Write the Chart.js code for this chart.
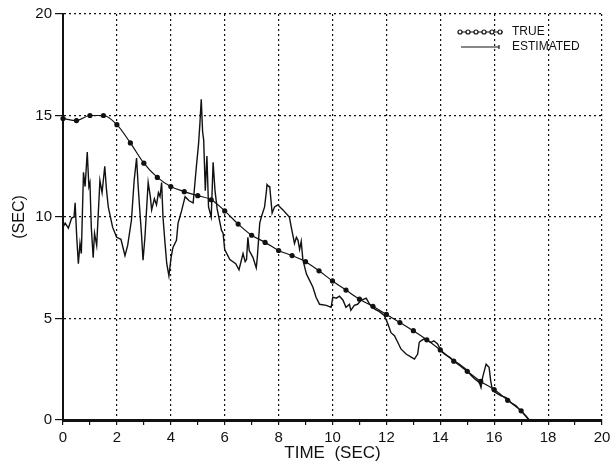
<!DOCTYPE html>
<html>
<head>
<meta charset="utf-8">
<script src="https://cdn.jsdelivr.net/npm/chart.js@4.4.0/dist/chart.umd.min.js"></script>
<style>
  html, body { margin: 0; padding: 0; background: #fff; }
  #wrap { width: 610px; height: 466px; }
</style>
</head>
<body>
<div id="wrap"><canvas id="grafico"></canvas></div>
<script>
// curva verdadeira (marcadores a cada 0.5 s)
const trueTime = [0, 0.5, 1, 1.5, 2, 2.5, 3, 3.5, 4, 4.5, 5, 5.5, 6, 6.5, 7, 7.5, 8, 8.5, 9, 9.5,
    10, 10.5, 11, 11.5, 12, 12.5, 13, 13.5, 14, 14.5, 15, 15.5, 16, 16.5, 17, 17.35, 20];
const trueValue = [14.85, 14.75, 15.0, 15.0, 14.55, 13.65, 12.65, 11.95, 11.5, 11.25, 11.05, 10.85, 10.3, 9.65, 9.1, 8.75, 8.35, 8.1, 7.8, 7.35,
    6.85, 6.4, 5.95, 5.6, 5.2, 4.8, 4.4, 3.95, 3.45, 2.9, 2.4, 1.9, 1.5, 0.97, 0.45, 0, 0];

// curva estimada
const estTime = [0, 0.08, 0.2, 0.32, 0.41, 0.45, 0.51, 0.57, 0.63, 0.68,
    0.76, 0.82, 0.9, 0.96, 1.0, 1.05, 1.12, 1.17, 1.25, 1.37,
    1.45, 1.55, 1.61, 1.68, 1.84, 1.99, 2.15, 2.3, 2.4, 2.54,
    2.64, 2.73, 2.79, 2.84, 2.91, 2.97, 3.04, 3.16, 3.24, 3.29,
    3.39, 3.47, 3.54, 3.6, 3.66, 3.71, 3.78, 3.85, 3.93, 4.01,
    4.08, 4.21, 4.27, 4.4, 4.53, 4.68, 4.83, 4.95, 5.03, 5.08,
    5.13, 5.18, 5.22, 5.28, 5.34, 5.4, 5.5, 5.57, 5.64, 5.72,
    5.88, 5.94, 6.0, 6.19, 6.41, 6.53, 6.68, 6.76, 6.81, 6.86,
    6.91, 7.05, 7.17, 7.21, 7.3, 7.36, 7.48, 7.55, 7.57, 7.63,
    7.67, 7.76, 7.85, 7.97, 8.16, 8.4, 8.47, 8.59, 8.66, 8.72,
    8.78, 8.84, 8.9, 9.03, 9.14, 9.27, 9.39, 9.52, 9.77, 9.95,
    10.01, 10.14, 10.26, 10.39, 10.5, 10.63, 10.68, 10.81, 10.93, 11.06,
    11.25, 11.38, 11.58, 11.73, 11.92, 12.05, 12.17, 12.3, 12.42, 12.54,
    12.73, 12.92, 13.04, 13.16, 13.22, 13.28, 13.4, 13.53, 13.66, 13.76,
    13.9, 14.03, 14.15, 14.34, 14.52, 14.7, 14.95, 15.01, 15.14, 15.3,
    15.45, 15.51, 15.57, 15.7, 15.81, 15.87, 15.94, 16.06, 16.24, 16.44,
    16.62, 16.81, 16.99, 17.18, 17.3, 20];
const estValue = [9.5, 9.7, 9.45, 9.95, 10.0, 10.7, 9.0, 7.7, 8.7, 8.2,
    12.2, 11.5, 13.2, 11.5, 11.7, 9.5, 8.0, 9.2, 8.6, 11.8,
    11.2, 12.5, 11.4, 10.5, 9.5, 9.0, 8.9, 8.1, 8.6, 9.85,
    11.8, 12.9, 11.5, 10.5, 9.2, 7.87, 9.0, 11.7, 11.0, 10.35,
    10.9, 10.6, 11.2, 11.0, 11.7, 10.0, 8.8, 7.7, 7.1, 8.0,
    8.5, 8.85, 9.7, 10.3, 11.0, 10.8, 10.7, 12.5, 13.6, 14.6,
    15.8, 14.2, 13.8, 11.3, 13.0, 10.5, 10.0, 12.7, 11.3, 10.4,
    9.35, 9.2, 8.4, 7.9, 7.7, 7.4, 8.2, 7.8, 7.9, 9.0,
    8.35, 8.0, 7.5, 8.0, 9.7, 10.0, 10.5, 11.3, 11.6, 11.5,
    11.5, 10.2, 10.5, 10.6, 10.35, 10.0, 9.5, 8.7, 9.0, 8.85,
    8.4, 8.8, 7.9, 7.2, 6.9, 6.55, 6.05, 5.7, 5.65, 5.55,
    6.05, 6.0, 6.1, 5.9, 5.55, 5.7, 5.4, 5.65, 5.7, 5.9,
    6.0, 5.7, 5.45, 5.35, 5.15, 4.75, 4.3, 4.15, 3.83, 3.5,
    3.25, 3.1, 3.0, 3.25, 3.83, 3.9, 4.0, 3.9, 3.83, 3.9,
    3.75, 3.4, 3.25, 3.1, 2.9, 2.75, 2.5, 2.4, 2.2, 2.0,
    1.85, 1.6, 2.1, 2.75, 2.6, 1.93, 1.44, 1.35, 1.2, 1.1,
    0.86, 0.7, 0.45, 0.2, 0, 0];

const xTickLabels = [0, 2, 4, 6, 8, 10, 12, 14, 16, 18, 20];
const yTickLabels = [0, 5, 10, 15, 20];

const fonte = '"Liberation Sans", Arial, sans-serif';
const tinta = '#111';

// legenda desenhada dentro da area do grafico, canto superior direito
const legendaPlugin = {
    id: 'legenda',
    afterDatasetsDraw(chart) {
        const ctx = chart.ctx;
        const sets = chart.data.datasets;
        ctx.save();
        ctx.strokeStyle = tinta;
        ctx.fillStyle = tinta;
        ctx.lineWidth = 1.2;

        ctx.beginPath();
        ctx.moveTo(458, 32);
        ctx.lineTo(503, 32);
        ctx.stroke();
        [460, 468, 476, 484, 492, 500].forEach(x => {
            ctx.beginPath();
            ctx.arc(x, 32, 2, 0, Math.PI * 2);
            ctx.fillStyle = '#fff';
            ctx.fill();
            ctx.stroke();
        });

        ctx.beginPath();
        ctx.moveTo(461, 47);
        ctx.lineTo(499, 47);
        ctx.moveTo(499, 45);
        ctx.lineTo(499, 49);
        ctx.stroke();

        ctx.fillStyle = tinta;
        ctx.font = '12px ' + fonte;
        ctx.textBaseline = 'middle';
        ctx.fillText(sets[0].label, 512, 32);
        ctx.fillText(sets[1].label, 512, 47);
        ctx.restore();
    }
};

function criarGrafico() {
    const truePoints = trueTime.map((t, i) => ({ x: t, y: trueValue[i] }));
    const estPoints = estTime.map((t, i) => ({ x: t, y: estValue[i] }));

    new Chart(document.getElementById('grafico'), {
        type: 'line',
        data: {
            datasets: [{
                label: 'TRUE',
                data: truePoints,
                borderColor: tinta,
                borderWidth: 1.2,
                pointRadius: ctx => ctx.dataIndex >= trueTime.length - 2 ? 0 : 2.6,
                pointBackgroundColor: tinta,
                pointBorderColor: tinta,
                pointBorderWidth: 0,
                cubicInterpolationMode: 'monotone',
                clip: false
            }, {
                label: 'ESTIMATED',
                data: estPoints,
                borderColor: tinta,
                borderWidth: 1.4,
                pointRadius: 0,
                tension: 0,
                clip: false
            }]
        },
        options: {
            animation: false,
            maintainAspectRatio: false,
            responsive: true,
            layout: { padding: { top: 14, right: 8, left: 0, bottom: 0 } },
            plugins: {
                legend: { display: false },
                tooltip: { enabled: false }
            },
            scales: {
                x: {
                    type: 'linear',
                    min: 0,
                    max: 20,
                    afterFit: scale => {
                        scale.height = 46;
                        scale.paddingLeft = 0;
                        scale.paddingRight = 0;
                    },
                    ticks: {
                        stepSize: 1,
                        autoSkip: false,
                        maxRotation: 0,
                        padding: 4,
                        color: tinta,
                        font: { family: fonte, size: 15 },
                        callback: v => xTickLabels.includes(v) ? String(v) : ''
                    },
                    grid: {
                        color: c => xTickLabels.includes(c.tick && c.tick.value) ? tinta : 'rgba(0,0,0,0)',
                        lineWidth: 1.2,
                        tickColor: tinta,
                        tickLength: 5,
                        tickWidth: 1.2
                    },
                    border: { color: tinta, width: 3, dash: [2, 3] },
                    title: {
                        display: true,
                        text: 'TIME  (SEC)',
                        color: tinta,
                        font: { family: fonte, size: 17 },
                        padding: { top: 0, bottom: 2 }
                    }
                },
                y: {
                    min: 0,
                    max: 20,
                    afterFit: scale => { scale.width = 63; },
                    ticks: {
                        stepSize: 5,
                        padding: 3,
                        color: tinta,
                        font: { family: fonte, size: 15 },
                        callback: v => yTickLabels.includes(v) ? String(v) : ''
                    },
                    grid: {
                        color: tinta,
                        lineWidth: 1.2,
                        tickColor: tinta,
                        tickLength: 8,
                        tickWidth: 1.2
                    },
                    border: { color: tinta, width: 2, dash: [2, 3] },
                    title: {
                        display: true,
                        text: '(SEC)',
                        color: tinta,
                        font: { family: fonte, size: 16 },
                        padding: { top: 10, bottom: 0 }
                    }
                }
            }
        },
        plugins: [legendaPlugin]
    });
}

document.addEventListener('DOMContentLoaded', criarGrafico);
</script>
</body>
</html>
